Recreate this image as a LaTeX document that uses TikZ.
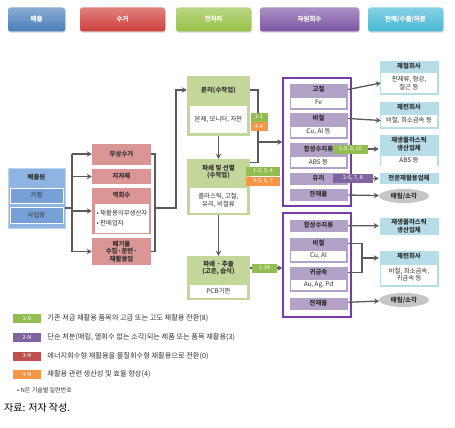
\documentclass[tikz,border=0pt]{standalone}
\usepackage{fontspec}
\setmainfont{Noto Sans CJK KR}
\usetikzlibrary{arrows.meta, positioning, shapes.geometric, shadows}

\definecolor{hdrBlue}{RGB}{74,126,187}
\definecolor{hdrRed}{RGB}{205,62,58}
\definecolor{hdrGreen}{RGB}{150,192,68}
\definecolor{hdrPurple}{RGB}{125,84,165}
\definecolor{hdrCyan}{RGB}{70,184,214}
\definecolor{srcBlue}{RGB}{141,180,226}
\definecolor{srcBlueDk}{RGB}{118,160,214}
\definecolor{colRed}{RGB}{217,150,148}
\definecolor{preGreen}{RGB}{196,215,155}
\definecolor{recPurple}{RGB}{120,60,170}
\definecolor{recLav}{RGB}{179,162,199}
\definecolor{outCyan}{RGB}{183,222,232}
\definecolor{tagGreen}{RGB}{146,189,80}
\definecolor{tagOrange}{RGB}{247,150,70}
\definecolor{tagPurple}{RGB}{128,100,162}
\definecolor{tagRed}{RGB}{192,80,77}
\definecolor{arrGray}{RGB}{90,90,90}
\definecolor{txtGray}{RGB}{50,50,50}

\newcommand{\tikzTag}[5]{
% #1 = name, #2 = x, #3 = y, #4 = width, #5 = color, label follows in braces
\node[tag, fill=#5, minimum width=#4] (#1) at (#2,#3)
}

\begin{document}
\begin{tikzpicture}[x=1pt, y=-1pt,
    hdr/.style={rounded corners=2.5pt, minimum height=24pt, inner sep=0pt, text=white,
        font=\bfseries\fontsize{6.5}{7.5}\selectfont,
        drop shadow={shadow xshift=0.8pt, shadow yshift=-1.2pt, opacity=0.35}},
    box/.style={inner sep=0pt, text=txtGray, font=\fontsize{6.4}{7.8}\selectfont, align=center},
    boxT/.style={box, font=\bfseries\fontsize{6.4}{7.8}\selectfont},
    whitebox/.style={box, fill=white},
    item/.style={box, fill=recLav, draw=white, line width=0.5pt, minimum width=59pt},
    outbox/.style={box, fill=outCyan, draw=white, line width=0.5pt, minimum width=60pt},
    tag/.style={inner sep=0pt, minimum height=9pt, text=white, font=\fontsize{5.5}{6.5}\selectfont},
    legend/.style={text=txtGray, font=\fontsize{7.2}{8.5}\selectfont, inner sep=0pt},
    conn/.style={draw=arrGray, line width=1.3pt},
    arr/.style={conn, -{Stealth[length=5pt, width=5.5pt]}}]

    \useasboundingbox (0,0) rectangle (455,428);

    % header row
    \node[hdr, top color=hdrBlue!65!white, bottom color=hdrBlue, minimum width=57pt] (hEmit) at (36.5,19.5) {배출};
    \node[hdr, top color=hdrRed!65!white, bottom color=hdrRed, minimum width=85pt] (hColl) at (122.5,19.5) {수거};
    \node[hdr, top color=hdrGreen!65!white, bottom color=hdrGreen, minimum width=75pt] (hPre) at (213.5,19.5) {전처리};
    \node[hdr, top color=hdrPurple!65!white, bottom color=hdrPurple, minimum width=99pt] (hRec) at (309.5,19.5) {자원회수};
    \node[hdr, top color=hdrCyan!65!white, bottom color=hdrCyan, minimum width=75pt] (hOut) at (405.5,19.5) {판매/수출/처분};

    % emission sources
    \node[box, fill=srcBlue, draw=srcBlue!55!white, line width=0.8pt, minimum width=57pt, minimum height=60pt] (emit) at (36.5,198) {};
    \node[boxT] (emitT) at (36.5,177) {배출원};
    \node[box, fill=srcBlueDk, draw=white, line width=0.8pt, minimum width=53pt, minimum height=15pt] (home) at (36.5,195.5) {가정};
    \node[box, fill=srcBlueDk, draw=white, line width=0.8pt, minimum width=53pt, minimum height=16pt] (biz) at (36.5,215) {사업장};

    % collection
    \node[boxT, fill=colRed, minimum width=59pt, minimum height=21pt] (free) at (121.5,154) {무상수거};
    \node[boxT, fill=colRed, minimum width=59pt, minimum height=15pt] (local) at (121.5,176.5) {지자체};
    \node[box, fill=colRed, minimum width=59pt, minimum height=46pt] (retn) at (121.5,211) {};
    \node[boxT] (retnT) at (121.5,195.5) {역회수};
    \node[whitebox, minimum width=54pt, minimum height=29pt, align=left] (retnW) at (122,218) {• 재활용의무생산자\\[3pt]• 판매업자};
    \node[boxT, fill=colRed, minimum width=59pt, minimum height=27pt] (waste) at (121.5,251.5) {폐기물\\수집·운반·\\재활용업};

    % pre-treatment
    \node[box, fill=preGreen, minimum width=63pt, minimum height=60pt] (sep) at (218.5,106) {};
    \node[boxT, minimum width=63pt, minimum height=28pt] (sepT) at (218.5,90) {분리(수작업)};
    \node[whitebox, minimum width=57pt, minimum height=27pt] (sepW) at (218.5,119) {본체, 모니터, 자판};

    \node[box, fill=preGreen, minimum width=63pt, minimum height=56pt] (shred) at (218.5,187) {};
    \node[boxT, minimum width=63pt, minimum height=20pt] (shredT) at (218.5,172) {파쇄 및 선별\\(수작업)};
    \node[whitebox, minimum width=57pt, minimum height=25pt] (shredW) at (218.5,200.5) {플라스틱, 고철,\\유리, 비철류};

    \node[box, fill=preGreen, minimum width=63pt, minimum height=44pt] (extr) at (218.5,278) {};
    \node[boxT, minimum width=63pt, minimum height=20pt] (extrT) at (218.5,268) {파쇄 · 추출\\(고온, 습식)};
    \node[whitebox, minimum width=57pt, minimum height=13pt] (extrW) at (218.5,291.5) {PCB기판};

    % resource recovery, upper group
    \node[draw=recPurple, line width=1.3pt, fill=white, inner sep=0pt, minimum width=68pt, minimum height=128pt] (rec1) at (317,142) {};
    \node[item, minimum height=27pt] (iron) at (318.5,96.5) {};
    \node[boxT, minimum width=59pt, minimum height=13pt] (ironT) at (318.5,89.5) {고철};
    \node[whitebox, minimum width=55pt, minimum height=10pt] (ironW) at (318.5,102.5) {Fe};
    \node[item, minimum height=27pt] (nonf1) at (318.5,125.5) {};
    \node[boxT, minimum width=59pt, minimum height=13pt] (nonf1T) at (318.5,118.5) {비철};
    \node[whitebox, minimum width=55pt, minimum height=10pt] (nonf1W) at (318.5,131.5) {Cu, Al 등};
    \node[item, minimum height=27pt] (plas1) at (318.5,155.5) {};
    \node[boxT, minimum width=59pt, minimum height=13pt] (plas1T) at (318.5,149) {합성수지류};
    \node[whitebox, minimum width=55pt, minimum height=10pt] (plas1W) at (318.5,162) {ABS 등};
    \node[item, font=\bfseries\fontsize{6.4}{7.8}\selectfont, minimum height=13pt] (glass1) at (318.5,178.5) {유리};
    \node[item, font=\bfseries\fontsize{6.4}{7.8}\selectfont, minimum height=13pt] (resid1) at (318.5,194.5) {잔재물};

    % resource recovery, lower group
    \node[draw=recPurple, line width=1.3pt, fill=white, inner sep=0pt, minimum width=68pt, minimum height=104pt] (rec2) at (317,265) {};
    \node[item, font=\bfseries\fontsize{6.4}{7.8}\selectfont, minimum height=13pt] (plas2) at (318.5,225.5) {합성수지류};
    \node[item, minimum height=26pt] (nonf2) at (318.5,250) {};
    \node[boxT, minimum width=59pt, minimum height=13pt] (nonf2T) at (318.5,243.5) {비철};
    \node[whitebox, minimum width=55pt, minimum height=10pt] (nonf2W) at (318.5,256) {Cu, Al};
    \node[item, minimum height=26pt] (prec) at (318.5,279) {};
    \node[boxT, minimum width=59pt, minimum height=13pt] (precT) at (318.5,272.5) {귀금속};
    \node[whitebox, minimum width=55pt, minimum height=10pt] (precW) at (318.5,285) {Au, Ag, Pd};
    \node[item, font=\bfseries\fontsize{6.4}{7.8}\selectfont, minimum height=13pt] (resid2) at (318.5,303.5) {잔재물};

    % sale, export, disposal
    \node[outbox, minimum height=35pt] (steel) at (409,77.5) {};
    \node[boxT, minimum width=60pt, minimum height=13pt] (steelT) at (409,66.5) {제철회사};
    \node[whitebox, minimum width=56pt, minimum height=20pt] (steelW) at (409,83) {판재류, 형강,\\철근 등};
    \node[outbox, minimum height=28pt] (smelt1) at (409,115) {};
    \node[boxT, minimum width=60pt, minimum height=13pt] (smelt1T) at (409,107.5) {제련회사};
    \node[whitebox, minimum width=56pt, minimum height=12pt] (smelt1W) at (409,120.5) {비철, 희소금속 등};
    \node[outbox, minimum height=32pt] (plast1) at (409,150) {};
    \node[boxT, minimum width=60pt, minimum height=20pt] (plast1T) at (409,144) {재생플라스틱\\생산업체};
    \node[whitebox, minimum width=56pt, minimum height=10pt] (plast1W) at (409,160.5) {ABS 등};
    \node[outbox, font=\bfseries\fontsize{6.4}{7.8}\selectfont, minimum height=12pt] (special) at (409,178) {전문재활용업체};
    \node[ellipse, box, font=\bfseries\fontsize{6.4}{7.8}\selectfont, fill=gray!45, minimum width=50pt, minimum height=14pt] (land1) at (404,196) {매립/소각};

    \node[outbox, font=\bfseries\fontsize{6.4}{7.8}\selectfont, minimum height=18pt] (plast2) at (409,226) {재생플라스틱\\생산업체};
    \node[outbox, minimum height=37pt] (smelt2) at (409,268.5) {};
    \node[boxT, minimum width=60pt, minimum height=13pt] (smelt2T) at (409,256.5) {제련회사};
    \node[whitebox, minimum width=56pt, minimum height=20pt] (smelt2W) at (409,274.5) {비철, 희소금속,\\귀금속 등};
    \node[ellipse, box, font=\bfseries\fontsize{6.4}{7.8}\selectfont, fill=gray!45, minimum width=50pt, minimum height=14pt] (land2) at (404,300) {매립/소각};

    % emission -> collection
    \coordinate (emitJoin) at (72,208);
    \draw[conn] (emit.east |- emitJoin) -- (emitJoin);
    \draw[conn] (emitJoin |- free) -- (emitJoin |- waste);
    \draw[arr] (emitJoin |- free) -- (free);
    \draw[arr] (emitJoin |- local) -- (local);
    \draw[arr] (emitJoin |- retn) -- (retn);
    \draw[arr] (emitJoin |- waste) -- (waste);

    % collection -> pre-treatment
    \coordinate (collJoin) at (155,208);
    \coordinate (upTurn) at (176,208);
    \draw[conn] (free.east) -| (collJoin) |- (waste.east);
    \draw[arr] (collJoin) -- (upTurn) |- (sepT.west);

    \draw[arr] (sep.south) -- (shred.north);
    \draw[arr] (shred.south) -- (extr.north);

    % pre-treatment -> recovery
    \coordinate (preJoin) at (258,142);
    \draw[conn] (sepT.east) -| (preJoin) |- ([yshift=-4pt]shred.north east);
    \draw[arr] (preJoin) -- (preJoin -| rec1.west);
    \draw[arr] (extrT.east) -- (extrT.east -| rec2.west);

    % recovery -> buyers
    \draw[arr] (ironT.east) -- (steelW.west);
    \draw[arr] (nonf1T.east) -- (smelt1W.west);
    \draw[arr] (plas1T.east) -- (plas1T.east -| plast1.west);
    \draw[arr] (glass1) -- (glass1 -| special.west);
    \draw[arr] (resid1) -- (land1);
    \draw[arr] (plas2) -- (plast2);
    \coordinate (metJoin) at (362,258);
    \draw[conn] (nonf2T.east) -| (metJoin) |- (precT.east);
    \draw[arr] (metJoin) -- (metJoin -| smelt2.west);
    \draw[arr] (resid2) -- (land2);

    % technology tags
    \tikzTag{t11}{259}{117}{17}{tagGreen} {1-1};
    \tikzTag{t44}{259}{126.5}{17}{tagOrange} {4-4};
    \tikzTag{t12}{263}{171}{34}{tagGreen} {1-2, 3, 4};
    \tikzTag{t45}{263}{181}{34}{tagOrange} {4-5, 6, 7};
    \tikzTag{t114}{264.5}{268}{25}{tagGreen} {1-14};
    \tikzTag{t18}{350.5}{149.5}{35}{tagGreen} {1-8, 9, 10};
    \tikzTag{t26}{353}{178}{40}{tagPurple} {2-6, 7, 8};

    % legend
    \tikzTag{lg1}{27}{318}{28}{tagGreen} {1-N};
    \tikzTag{lg2}{27}{337}{28}{tagPurple} {2-N};
    \tikzTag{lg3}{27}{356}{28}{tagRed} {3-N};
    \tikzTag{lg4}{27}{374}{28}{tagOrange} {4-N};
    \node[legend, right=6pt of lg1] (lg1T) {기존 저급 재활용 품목의 고급 또는 고도 재활용 전환(8)};
    \node[legend, right=6pt of lg2] (lg2T) {단순 처분(매립, 열회수 없는 소각)되는 제품 또는 품목 재활용(3)};
    \node[legend, right=6pt of lg3] (lg3T) {에너지회수형 재활용을 물질회수형 재활용으로 전환(0)};
    \node[legend, right=6pt of lg4] (lg4T) {재활용 관련 생산성 및 효율 향상(4)};
    \node[legend, anchor=west, font=\fontsize{6}{7}\selectfont] (lgNote) at (17,390) {• N은 기술별 일련번호};

    \node[anchor=west, inner sep=0pt, font=\fontsize{10}{12}\selectfont] (source) at (4,408) {자료: 저자 작성.};

\end{tikzpicture}
\end{document}
